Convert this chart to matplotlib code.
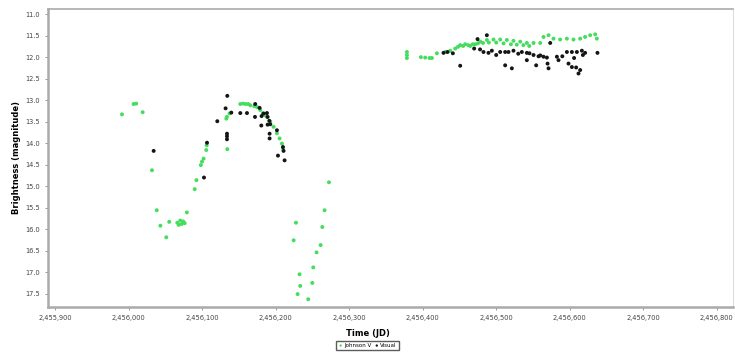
import matplotlib
matplotlib.use("Agg")
import matplotlib.pyplot as plt
from matplotlib.ticker import FuncFormatter, MultipleLocator

# Johnson V observations (JD, magnitude)
v_jd = [2455990.7, 2456006.5, 2456010.0, 2456018.8, 2456031.5, 2456038.0,
        2456043.0, 2456051.0, 2456055.0, 2456066.0, 2456068.0, 2456070.0,
        2456072.0, 2456074.0, 2456076.0, 2456079.0, 2456089.6, 2456092.0,
        2456098.0, 2456099.6, 2456101.8, 2456105.4, 2456106.0, 2456134.0,
        2456132.7, 2456133.5, 2456137.0, 2456151.7, 2456155.4, 2456158.9,
        2456162.6, 2456165.3, 2456170.7, 2456174.4, 2456178.9, 2456182.5,
        2456185.7, 2456188.0, 2456192.5, 2456197.0, 2456201.6, 2456205.2,
        2456208.4, 2456209.8,
        2456224.3, 2456227.5, 2456229.7, 2456232.4, 2456233.3, 2456244.2,
        2456249.7, 2456251.0, 2456255.5, 2456261.0, 2456263.3, 2456266.4,
        2456272.4,
        2456378.5, 2456378.5, 2456378.5, 2456397.5, 2456403.4, 2456409.3,
        2456412.5, 2456419.3, 2456430.6, 2456437.4, 2456444.2, 2456451.0,
        2456457.8, 2456464.6, 2456471.4, 2456478.2, 2456487.3, 2456496.3,
        2456505.4, 2456514.5, 2456523.5, 2456532.7, 2456541.7, 2456550.8,
        2456559.9, 2456564.4, 2456571.2, 2456578.0, 2456587.0, 2456596.2,
        2456605.2, 2456614.3, 2456621.0, 2456627.9, 2456634.7, 2456637.0,
        2456448.0, 2456455.0, 2456462.0, 2456468.0, 2456475.0, 2456482.0,
        2456490.0, 2456500.0, 2456510.0, 2456520.0, 2456528.0, 2456537.0,
        2456545.0]
v_mag = [13.33, 13.09, 13.08, 13.28, 14.63, 15.56,
         15.92, 16.19, 15.83, 15.85, 15.90, 15.80,
         15.88, 15.82, 15.86, 15.61, 15.07, 14.86,
         14.51, 14.43, 14.36, 14.16, 14.05, 14.14,
         13.43, 13.39, 13.31, 13.09, 13.08, 13.09,
         13.09, 13.12, 13.14, 13.16, 13.23, 13.31,
         13.35, 13.39, 13.50, 13.62, 13.77, 13.89,
         14.01, 14.12,
         16.26, 15.85, 17.51, 17.05, 17.32, 17.63,
         17.25, 16.89, 16.54, 16.37, 15.95, 15.56,
         14.91,
         11.88, 11.95, 12.02, 12.00, 12.01, 12.02,
         12.02, 11.91, 11.88, 11.85, 11.80, 11.72,
         11.70, 11.74, 11.70, 11.64, 11.60, 11.59,
         11.59, 11.60, 11.62, 11.64, 11.67, 11.67,
         11.67, 11.53, 11.49, 11.57, 11.59, 11.57,
         11.59, 11.57, 11.53, 11.49, 11.47, 11.57,
         11.76, 11.74, 11.72, 11.70, 11.68, 11.67,
         11.66, 11.66, 11.68, 11.70, 11.71, 11.72,
         11.74]

# Visual observations (JD, magnitude)
vis_jd = [2456033.8, 2456102.3, 2456106.4, 2456120.4, 2456134.0, 2456131.7,
          2456133.6, 2456133.6, 2456133.6, 2456139.5, 2456151.7, 2456160.8,
          2456172.0, 2456171.7, 2456178.0, 2456180.7, 2456183.4, 2456180.3,
          2456188.0, 2456188.9, 2456191.2, 2456192.5, 2456188.9, 2456191.6,
          2456191.6, 2456201.6, 2456209.8, 2456210.6, 2456203.0, 2456212.0,
          2456428.3, 2456433.7, 2456441.0, 2456451.0, 2456474.6, 2456487.3,
          2456482.7, 2456489.5, 2456494.1, 2456505.4, 2456512.2, 2456516.7,
          2456523.5, 2456512.2, 2456521.3, 2456534.9, 2456541.7, 2456545.3,
          2456541.7, 2456554.4, 2456550.8, 2456557.6, 2456564.4, 2456569.0,
          2456569.9, 2456571.2, 2456573.5, 2456582.6, 2456584.8, 2456596.2,
          2456603.0, 2456609.8, 2456616.6, 2456621.0, 2456598.4, 2456603.0,
          2456608.8, 2456614.3, 2456612.0, 2456637.8, 2456470.0, 2456478.0,
          2456500.0, 2456530.0, 2456560.0, 2456590.0, 2456606.0, 2456618.0]
vis_mag = [14.18, 14.80, 13.99, 13.49, 12.90, 13.19,
           13.78, 13.84, 13.91, 13.29, 13.30, 13.30,
           13.09, 13.39, 13.18, 13.37, 13.31, 13.59,
           13.30, 13.39, 13.48, 13.56, 13.57, 13.78,
           13.89, 13.70, 14.09, 14.18, 14.29, 14.40,
           11.90, 11.88, 11.91, 12.20, 11.58, 11.49,
           11.88, 11.90, 11.85, 11.88, 11.88, 11.88,
           11.85, 12.19, 12.26, 11.88, 11.90, 11.91,
           12.07, 12.19, 11.95, 11.98, 11.99, 12.01,
           12.15, 12.26, 11.67, 11.99, 12.07, 11.88,
           11.88, 11.88, 11.85, 11.90, 12.15, 12.23,
           12.24, 12.30, 12.38, 11.90, 11.80, 11.82,
           11.95, 11.92, 11.96, 11.98, 12.02, 11.95]

fig = plt.figure(figsize=(7.35, 3.54), dpi=100)
ax = fig.add_axes([0.0653, 0.1328, 0.9317, 0.8418])

ax.scatter(v_jd, v_mag, s=8, color="#44dd5e", edgecolors="none",
           label="Johnson V", zorder=3)
ax.scatter(vis_jd, vis_mag, s=8, color="#151515", edgecolors="none",
           label="Visual", zorder=4)

ax.set_xlim(2455890, 2456822)
ax.set_ylim(17.81, 10.88)
ax.xaxis.set_major_locator(MultipleLocator(100))
ax.yaxis.set_major_locator(MultipleLocator(0.5))
ax.xaxis.set_major_formatter(FuncFormatter(lambda v, p: f"{v:,.0f}"))
ax.yaxis.set_major_formatter(FuncFormatter(lambda v, p: f"{v:.1f}"))
ax.tick_params(labelsize=4.8, length=2, width=0.6, color="#888888",
               labelcolor="#444444")

for s in ax.spines.values():
    s.set_color("#aaaaaa")
    s.set_linewidth(1.8)
ax.spines["top"].set_linewidth(1.2)
ax.spines["right"].set_linewidth(0.8)
ax.spines["right"].set_color("#dddddd")

# label and legend sit centred on the figure, not the axes
cx = (0.5 - 0.0653) / 0.9317
ax.set_xlabel("Time (JD)", fontsize=6, fontweight="bold")
ax.xaxis.set_label_coords(cx, -0.075)
ax.set_ylabel("Brightness (magnitude)", fontsize=6, fontweight="bold",
              labelpad=3)

ax.legend(loc="upper center", bbox_to_anchor=(cx, -0.105), ncol=2,
          fontsize=4, frameon=True, fancybox=False, edgecolor="#333333",
          handletextpad=0.2, columnspacing=0.6, borderpad=0.35,
          handlelength=0.8, markerscale=0.6)

fig.savefig("out.png", dpi=100)
